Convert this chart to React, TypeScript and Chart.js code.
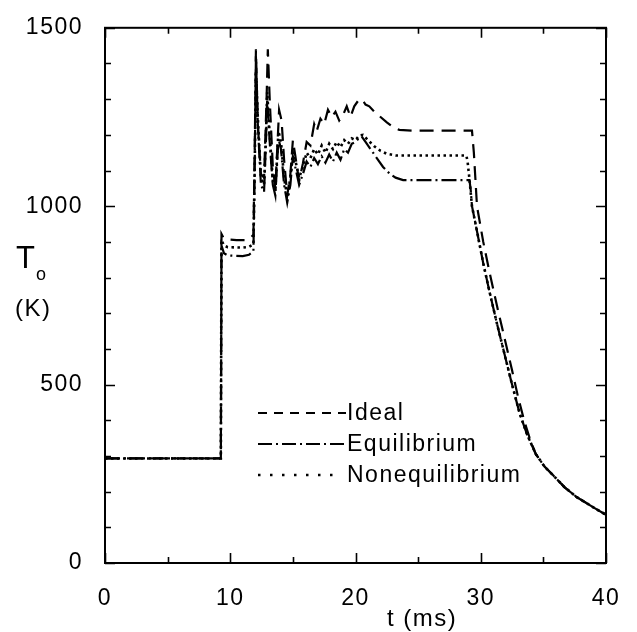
import React, { useEffect, useRef } from "react";
import { Chart, registerables } from "chart.js";

Chart.register(...registerables);

// ---- Data (t in ms, temperature in K) ----
const idealTime = [0, 9.25, 9.3, 9.45, 9.7, 10.5, 11.2, 11.6, 11.85, 11.95, 12.05, 12.2, 12.45, 12.7, 12.9, 13.0, 13.15, 13.4, 13.6, 13.9, 14.1, 14.3, 14.55, 14.8, 15.0, 15.2, 15.5, 15.8, 16.1, 16.4, 16.7, 16.9, 17.2, 17.5, 17.8, 18.1, 18.4, 18.7, 19.0, 19.3, 19.6, 19.9, 20.2, 20.5, 20.8, 21.1, 21.5, 22.0, 22.5, 23.0, 23.5, 24.5, 29.3, 29.45, 29.7, 30.2, 30.7, 31.3, 31.9, 32.5, 33.0, 33.5, 34.0, 34.4, 35.1, 35.8, 36.7, 37.65, 38.8, 40];
const idealTemp = [293, 293, 922, 912, 907, 905, 905, 910, 920, 1150, 1440, 1230, 1090, 1080, 1300, 1440, 1300, 1110, 1050, 1270, 1240, 1130, 1030, 1090, 1185, 1140, 1070, 1120, 1180, 1170, 1230, 1210, 1245, 1230, 1270, 1250, 1265, 1240, 1255, 1280, 1250, 1280, 1295, 1300, 1285, 1280, 1265, 1250, 1235, 1222, 1214, 1212, 1212, 1150, 1000, 900, 815, 720, 630, 540, 462, 395, 340, 305, 270, 245, 212, 185, 160, 135];

const equilTime = [0, 9.25, 9.3, 9.5, 9.8, 11.0, 11.5, 11.85, 11.95, 12.05, 12.2, 12.45, 12.7, 12.85, 12.95, 13.15, 13.4, 13.6, 13.85, 14.05, 14.3, 14.55, 14.8, 15.0, 15.25, 15.5, 15.8, 16.1, 16.4, 16.7, 17.0, 17.3, 17.6, 17.9, 18.2, 18.5, 18.8, 19.1, 19.4, 19.7, 20.0, 20.3, 20.5, 20.8, 21.2, 21.7, 22.2, 22.7, 23.2, 23.8, 29.1, 29.2, 29.3, 29.7, 30.2, 30.7, 31.3, 31.9, 32.5, 33.1, 33.7, 34.4, 35.1, 35.8, 36.7, 37.65, 38.8, 40];
const equilTemp = [293, 293, 890, 868, 862, 860, 864, 873, 1100, 1420, 1230, 1060, 1040, 1180, 1300, 1180, 1060, 1030, 1190, 1160, 1060, 1010, 1060, 1140, 1100, 1060, 1090, 1125, 1110, 1135, 1118, 1140, 1122, 1145, 1125, 1150, 1130, 1160, 1150, 1175, 1180, 1192, 1195, 1180, 1160, 1135, 1110, 1092, 1080, 1073, 1073, 1045, 1000, 930, 840, 760, 670, 585, 500, 420, 360, 305, 270, 245, 212, 185, 160, 135];

const noneqTime = [0, 9.25, 9.3, 9.5, 9.8, 11.0, 11.5, 11.85, 11.95, 12.05, 12.2, 12.45, 12.7, 12.85, 12.95, 13.15, 13.4, 13.6, 13.85, 14.05, 14.3, 14.55, 14.8, 15.0, 15.25, 15.5, 15.8, 16.1, 16.4, 16.7, 17.0, 17.3, 17.6, 17.9, 18.2, 18.5, 18.8, 19.1, 19.4, 19.7, 20.0, 20.3, 20.6, 21.0, 21.5, 22.0, 22.5, 23.2, 28.85, 28.95, 29.1, 29.3, 29.7, 30.2, 30.7, 31.3, 31.9, 32.5, 33.1, 33.7, 34.4, 35.1, 35.8, 36.7, 37.65, 38.8, 40];
const noneqTemp = [293, 293, 905, 890, 885, 884, 886, 893, 1100, 1380, 1250, 1080, 1060, 1200, 1320, 1200, 1070, 1045, 1210, 1180, 1080, 1025, 1080, 1150, 1120, 1080, 1110, 1150, 1135, 1160, 1145, 1170, 1150, 1175, 1160, 1180, 1165, 1185, 1175, 1190, 1185, 1198, 1200, 1185, 1168, 1155, 1147, 1142, 1142, 1125, 1075, 1000, 930, 840, 760, 670, 585, 500, 420, 360, 305, 270, 245, 212, 185, 160, 135];

const seriesNames = ["Ideal", "Equilibrium", "Nonequilibrium"];
const xMajorTicks = [0, 10, 20, 30, 40];
const xMinorTicks = [5, 15, 25, 35];
const yMajorTicks = [0, 500, 1000, 1500];
const yMinorTicks = [100, 200, 300, 400, 600, 700, 800, 900, 1100, 1200, 1300, 1400];

const FONT = "'Liberation Sans', Arial, Helvetica, sans-serif";
const SPACING = "1.5px";

const toPoints = (ts: number[], vs: number[]) => ts.map((t, i) => ({ x: t, y: vs[i] }));

const framePlugin = {
  id: "frameAndLegend",
  beforeDraw(chart: any) {
    chart.ctx.letterSpacing = SPACING;
  },
  afterDraw(chart: any) {
    const { ctx, chartArea, scales } = chart;
    const { left, right, top, bottom } = chartArea;
    const xs = scales.x;
    const ys = scales.y;
    ctx.save();
    ctx.setLineDash([]);
    ctx.strokeStyle = "#000";
    ctx.lineWidth = 2;
    ctx.strokeRect(left, top, right - left, bottom - top);

    ctx.lineWidth = 1.6;
    const tickX = (v: number, len: number) => {
      const p = Math.round(xs.getPixelForValue(v)) + 0.5;
      ctx.beginPath();
      ctx.moveTo(p, bottom);
      ctx.lineTo(p, bottom - len);
      ctx.moveTo(p, top);
      ctx.lineTo(p, top + len);
      ctx.stroke();
    };
    const tickY = (v: number, len: number) => {
      const p = Math.round(ys.getPixelForValue(v)) + 0.5;
      ctx.beginPath();
      ctx.moveTo(left, p);
      ctx.lineTo(left + len, p);
      ctx.moveTo(right, p);
      ctx.lineTo(right - len, p);
      ctx.stroke();
    };
    xMajorTicks.forEach((v) => tickX(v, 10));
    xMinorTicks.forEach((v) => tickX(v, 6));
    yMajorTicks.forEach((v) => tickY(v, 10));
    yMinorTicks.forEach((v) => tickY(v, 6));

    // Legend
    const rowsY = [413, 444, 475];
    const lineEnds = [346, 346, 338];
    const legendDash = [[9, 7], [14, 4, 2, 4], [2.5, 9.5]];
    chart.data.datasets.forEach((ds: any, i: number) => {
      ctx.save();
      ctx.strokeStyle = "#000";
      ctx.lineWidth = ds.borderWidth;
      ctx.setLineDash(legendDash[i]);
      ctx.beginPath();
      ctx.moveTo(258, rowsY[i]);
      ctx.lineTo(lineEnds[i], rowsY[i]);
      ctx.stroke();
      ctx.restore();
      ctx.fillStyle = "#000";
      ctx.font = `23px ${FONT}`;
      ctx.textAlign = "left";
      ctx.textBaseline = "middle";
      ctx.letterSpacing = SPACING;
      ctx.fillText(ds.label, 347, rowsY[i] + 1);
    });

    // Axis titles
    ctx.fillStyle = "#000";
    ctx.textBaseline = "alphabetic";
    ctx.textAlign = "left";
    ctx.letterSpacing = "0px";
    ctx.font = `31px ${FONT}`;
    ctx.fillText("T", 16, 268);
    ctx.font = `18px ${FONT}`;
    ctx.fillText("o", 36, 280);
    ctx.letterSpacing = SPACING;
    ctx.font = `24px ${FONT}`;
    ctx.fillText("(K)", 15, 316);
    ctx.fillText("t (ms)", 387, 626);
    ctx.restore();
  },
};

export default function App() {
  const ref = useRef<HTMLCanvasElement>(null);
  useEffect(() => {
    document.body.style.margin = "0";
    const canvas = ref.current!;
    const chart = new Chart(canvas, {
      type: "line",
      data: {
        datasets: [
          {
            label: seriesNames[0],
            data: toPoints(idealTime, idealTemp),
            borderColor: "#000",
            borderWidth: 2.2,
            borderDash: [14, 8],
            pointRadius: 0,
            tension: 0,
            fill: false,
          },
          {
            label: seriesNames[1],
            data: toPoints(equilTime, equilTemp),
            borderColor: "#000",
            borderWidth: 2.2,
            borderDash: [15, 4, 2, 4],
            pointRadius: 0,
            tension: 0,
            fill: false,
          },
          {
            label: seriesNames[2],
            data: toPoints(noneqTime, noneqTemp),
            borderColor: "#000",
            borderWidth: 2.6,
            borderDash: [2.5, 3.5],
            pointRadius: 0,
            tension: 0,
            fill: false,
          },
        ],
      },
      options: {
        responsive: false,
        animation: false,
        devicePixelRatio: 1,
        layout: { padding: { top: 19, right: 31, left: 0, bottom: 0 } },
        plugins: { legend: { display: false }, tooltip: { enabled: false } },
        scales: {
          x: {
            type: "linear",
            min: 0,
            max: 40,
            grid: { display: false },
            border: { display: false },
            ticks: {
              stepSize: 10,
              color: "#000",
              font: { family: FONT, size: 23 },
              padding: 14,
              maxRotation: 0,
              autoSkip: false,
              callback: (v: any) => String(v),
            },
            afterFit: (s: any) => {
              s.height = 69;
            },
          },
          y: {
            type: "linear",
            min: 0,
            max: 1500,
            grid: { display: false },
            border: { display: false },
            ticks: {
              stepSize: 500,
              color: "#000",
              font: { family: FONT, size: 23 },
              padding: 14,
              autoSkip: false,
              callback: (v: any) => String(v),
            },
            afterFit: (s: any) => {
              s.width = 105;
            },
          },
        },
      },
      plugins: [framePlugin],
    });
    return () => chart.destroy();
  }, []);
  return (
    <div style={{ width: 637, height: 632 }}>
      <canvas ref={ref} width={637} height={632} style={{ display: "block" }} />
    </div>
  );
}
